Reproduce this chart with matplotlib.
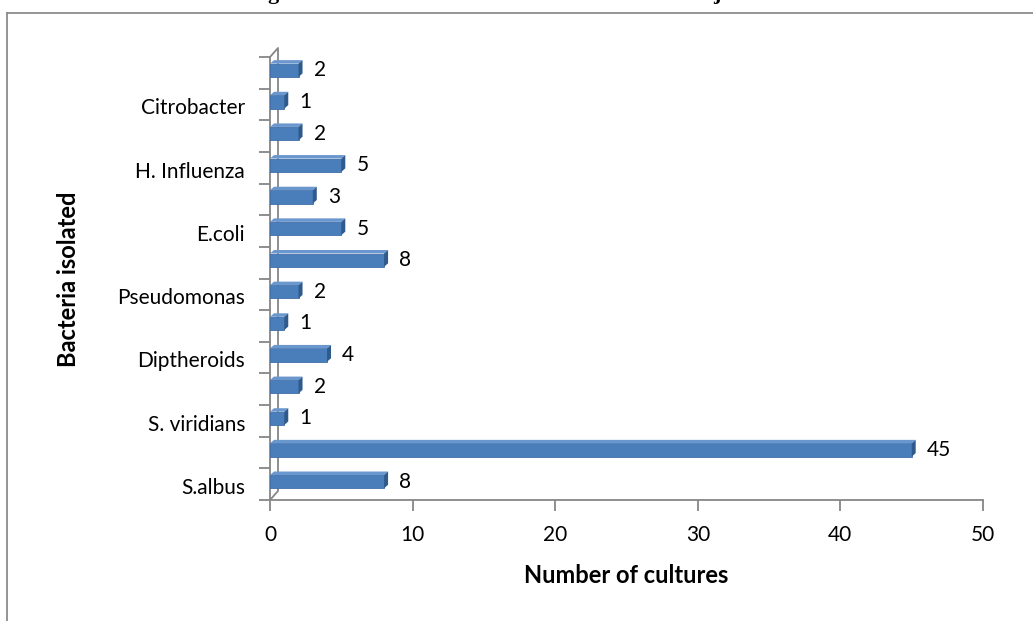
import matplotlib
matplotlib.use("Agg")
import matplotlib.pyplot as plt
from matplotlib.patches import Polygon
from matplotlib.lines import Line2D

# ---- data (bottom to top) ----
values = [8, 45, 1, 2, 4, 1, 2, 8, 5, 3, 5, 2, 1, 2]
shown_labels = ["S.albus", "S. viridians", "Diptheroids", "Pseudomonas",
                "E.coli", "H. Influenza", "Citrobacter"]
x_ticks = [0, 10, 20, 30, 40, 50]
x_title = "Number of cultures"
y_title = "Bacteria isolated"

plt.rcParams['font.family'] = ['Lato', 'DejaVu Sans']

W, H = 1033, 621
fig = plt.figure(figsize=(W / 100, H / 100), dpi=100)
fig.patch.set_facecolor("white")

def fx(px):
    return px / W

def fy(py):
    return 1 - py / H

# outer frame (chart area border, cut off at right/bottom)
fig.add_artist(Line2D([fx(7), fx(7)], [fy(13), fy(H + 5)], color="#8c8c8c", lw=1.3,
                      transform=fig.transFigure))
fig.add_artist(Line2D([fx(7), fx(W + 5)], [fy(13), fy(13)], color="#8c8c8c", lw=1.3,
                      transform=fig.transFigure))

# title fragments cut off at the top of the image (as in the reference)
fig.text(fx(273), 1 + 1.0 / H, "g", fontsize=16, fontweight="bold",
         family="Liberation Serif", ha="center", va="baseline")
fig.text(fx(717), 1 + 1.0 / H, "j", fontsize=16, fontweight="bold",
         family="Liberation Serif", ha="center", va="baseline")

ax_left, ax_right = 270, 983
ax_top, ax_bottom = 57, 500
ax = fig.add_axes([fx(ax_left), fy(ax_bottom), fx(ax_right - ax_left),
                   (ax_bottom - ax_top) / H])
n = len(values)
ax.set_xlim(0, 50)
ax.set_ylim(-0.5, n - 0.5)
ax.set_facecolor("none")

px_per_x = (ax_right - ax_left) / 50.0
px_per_y = (ax_bottom - ax_top) / n

gray = "#868686"
fs = 15

# 3D wall (back edge)
wdx = 8 / px_per_x
wdy = 9 / px_per_y
ax.plot([0, wdx, wdx, 0], [n - 0.5, n - 0.5 + wdy, -0.5 + wdy, -0.5],
        color=gray, lw=1.3, clip_on=False, zorder=1)

# bars with a 3D look
front = "#4a7ebb"
topc = "#6b97cf"
side = "#2f5a8c"
bdx = 4 / px_per_x
bdy = 3.5 / px_per_y
bh = 0.42
shift = 0.08
ys = list(range(n))
ax.barh([y + shift for y in ys], values, height=bh, color=front,
        edgecolor="#3f6fa8", linewidth=0.6, zorder=3)
for y, v in zip(ys, values):
    y0 = y + shift - bh / 2
    y1 = y + shift + bh / 2
    ax.add_patch(Polygon([(0, y1), (bdx, y1 + bdy), (v + bdx, y1 + bdy), (v, y1)],
                         closed=True, facecolor=topc, edgecolor="none",
                         zorder=3, clip_on=False))
    ax.add_patch(Polygon([(v, y0), (v + bdx, y0 + bdy), (v + bdx, y1 + bdy), (v, y1)],
                         closed=True, facecolor=side, edgecolor="none",
                         zorder=3, clip_on=False))
    ax.text(v + bdx + 11 / px_per_x, y + shift, str(v), fontsize=fs,
            va="center", ha="left", color="black", zorder=4)

# axes styling
for s in ["top", "right"]:
    ax.spines[s].set_visible(False)
for s in ["left", "bottom"]:
    ax.spines[s].set_color(gray)
    ax.spines[s].set_linewidth(1.3)

ax.set_xticks(x_ticks)
ax.set_xticklabels([str(t) for t in x_ticks], fontsize=fs)
ax.tick_params(axis="x", length=8, width=1.3, color=gray, pad=10)

ax.set_yticks([i - 0.5 for i in range(n + 1)])
ax.set_yticklabels([])
ax.tick_params(axis="y", length=8, width=1.3, color=gray)
for i, lab in enumerate(shown_labels):
    ax.text(-25 / px_per_x, 2 * i - 0.12, lab, fontsize=fs, ha="right", va="center")

ax.set_xlabel(x_title, fontsize=17, fontweight="bold", labelpad=14)
fig.text(fx(68), fy(279), y_title, fontsize=17, fontweight="bold",
         rotation=90, ha="center", va="center")

fig.savefig("out.png", dpi=100, facecolor="white")
